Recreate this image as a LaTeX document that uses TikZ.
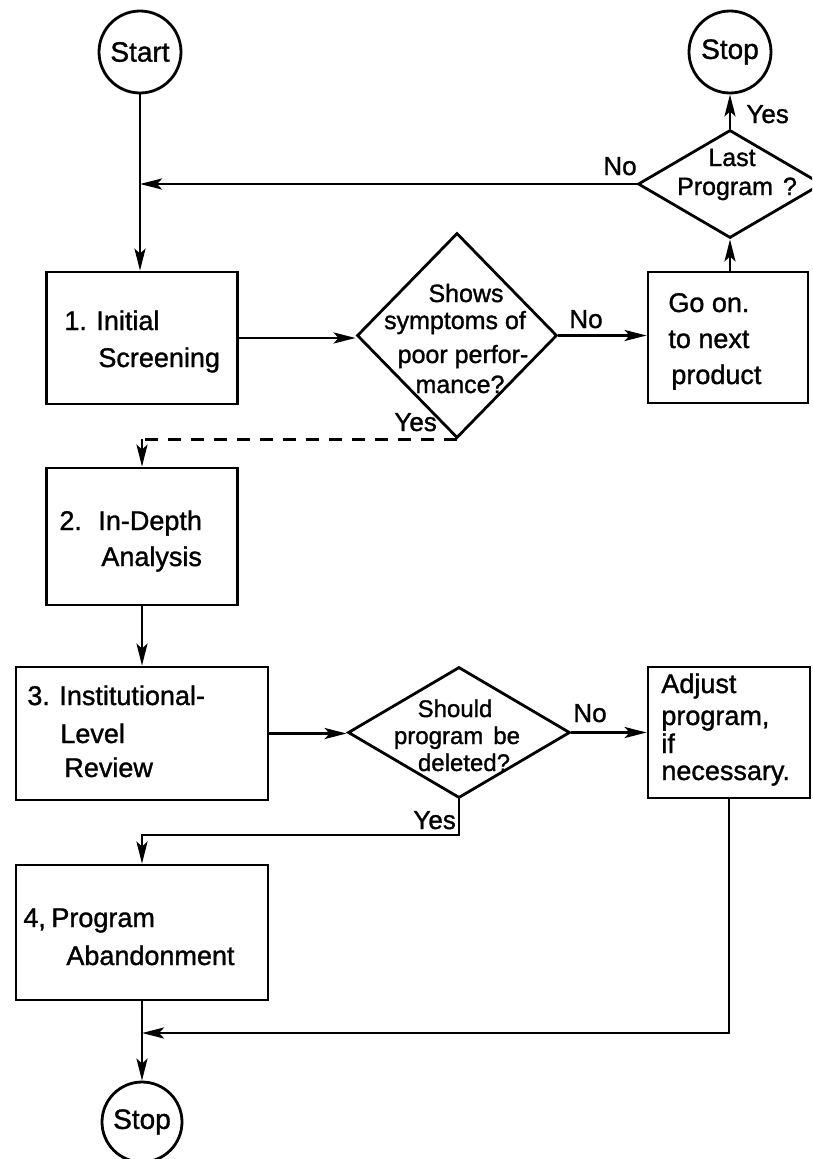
\documentclass[tikz,border=0pt]{standalone}
\usepackage{fontspec}
\setmainfont{Liberation Sans}
\newfontfamily\lett{Liberation Sans}[RawFeature={embolden=1.2}]
\usetikzlibrary{arrows.meta,shapes.geometric}

\tikzset{
  box/.style={draw, rectangle, inner sep=0pt},
  term/.style={draw, circle, inner sep=0pt, minimum size=82pt,
    font=\lett\fontsize{28}{32}\selectfont},
  dec/.style={draw, diamond, inner sep=0pt},
  txt/.style={inner sep=0pt, anchor=base west},
  ctxt/.style={inner sep=0pt, anchor=base,
    font=\lett\fontsize{25}{30}\selectfont},
  qtxt/.style={inner sep=0pt, anchor=base,
    font=\lett\fontsize{24}{28}\selectfont},
  lbl/.style={inner sep=0pt, anchor=base west,
    font=\lett\fontsize{26}{30}\selectfont},
  arr/.style={-{Stealth[length=22pt,width=11pt,inset=5pt]}},
}

\begin{document}
\begin{tikzpicture}[x=1pt, y=-1pt, line width=2.8pt,
  font=\lett\fontsize{27}{32}\selectfont]
\useasboundingbox (0,0) rectangle (812,1159);
\clip (0,0) rectangle (812,1159);

% terminals
\node[term] (start) at (140,52) {Start};
\node[term] (stopA) at (730,52) {Stop};
\node[term, minimum size=80pt] (stopB) at (142,1122) {Stop};

% process boxes
\node[box, minimum width=191pt, minimum height=132pt] (b1) at (142,338) {};
\node[box, minimum width=191pt, minimum height=137pt] (b2) at (142,536.5) {};
\node[box, minimum width=252pt, minimum height=133pt] (b3) at (142,733.5) {};
\node[box, minimum width=252pt, minimum height=135pt] (b4) at (142,932.5) {};
\node[box, minimum width=160pt, minimum height=131pt] (goon) at (728,337.5) {};
\node[box, minimum width=162pt, minimum height=131pt] (adj) at (729,732.5) {};

% decisions
\node[dec, minimum width=200pt, minimum height=205pt] (d1) at (457,335.5) {};
\node[dec, minimum width=222pt, minimum height=131pt] (d2) at (459,732.5) {};
\node[dec, minimum width=184pt, minimum height=108pt] (d3) at (730,184) {};

% box texts
\node[txt] (t1n) at (63,330) {1.};
\node[txt] (t1a) at (95,330) {Initial};
\node[txt] (t1b) at (97,367) {Screening};
\node[txt] (t2n) at (58,530) {2.};
\node[txt] (t2a) at (97,530) {In-Depth};
\node[txt] (t2b) at (100,566) {Analysis};
\node[txt] (t3n) at (26,705) {3.};
\node[txt] (t3a) at (58,705) {Institutional-};
\node[txt] (t3b) at (59,743) {Level};
\node[txt] (t3c) at (63,777) {Review};
\node[txt] (t4n) at (22,927) {4,};
\node[txt] (t4a) at (50,927) {Program};
\node[txt] (t4b) at (65,965) {Abandonment};
\node[txt] (tga) at (667,312) {Go on.};
\node[txt] (tgb) at (667,348) {to next};
\node[txt] (tgc) at (670,384) {product};
\node[txt] (taa) at (660,693) {Adjust};
\node[txt] (tab) at (660,725) {program,};
\node[txt] (tac) at (660,753) {if};
\node[txt] (tad) at (660,780) {necessary.};

% decision texts
\node[ctxt] (q1a) at (466,302) {Shows};
\node[ctxt] (q1b) at (455,329) {symptoms of};
\node[ctxt] (q1c) at (463,363) {poor perfor-};
\node[ctxt] (q1d) at (460,393) {mance?};
\node[qtxt] (q2a) at (455,717) {Should};
\node[qtxt] (q2b) at (457,744) {program\hspace{10pt}be};
\node[qtxt] (q2c) at (464,771) {deleted?};
\node[qtxt, font=\lett\fontsize{25}{28}\selectfont] (q3a) at (732,166) {Last};
\node[qtxt, font=\lett\fontsize{25}{28}\selectfont] (q3b) at (737,195) {Program\hspace{10pt}?};

% branch labels
\node[lbl] (lno3) at (602,175) {No};
\node[lbl] (lyes3) at (745,123) {Yes};
\node[lbl] (lno1) at (568,328) {No};
\node[lbl] (lyes1) at (393,431) {Yes};
\node[lbl] (lno2) at (572,722) {No};
\node[lbl] (lyes2) at (412,829) {Yes};

% helper rows for the elbow connectors
\coordinate (r2) at (0,835);
\coordinate (r3) at (0,1033);
\coordinate (c1) at (b2.north |- d1.south);

% connectors
\draw[arr] (start.south) -- (start.south |- b1.north);
\draw[arr] (d3.west) -- (d3.west -| start.south);
\draw[arr] (b1.east) -- (b1.east -| d1.west);
\draw[arr] (d1.east) -- (d1.east -| goon.west);
\draw[arr] (d3.south |- goon.north) -- (d3.south);
\draw[arr] (d3.north) -- (stopA.south);
\draw[dash pattern=on 13pt off 10pt] (d1.south) -- (c1);
\draw[arr] (c1) -- (b2.north);
\draw[arr] (b2.south) -- (b3.north);
\draw[arr] (b3.east) -- (b3.east -| d2.west);
\draw[arr] (d2.east) -- (d2.east -| adj.west);
\draw[arr] (d2.south) -- (d2.south |- r2) -- (b4.north |- r2) -- (b4.north);
\draw[arr] (b4.south) -- (stopB.north);
\draw[arr] (adj.south) -- (adj.south |- r3) -- (b4.south |- r3);
\end{tikzpicture}
\end{document}
